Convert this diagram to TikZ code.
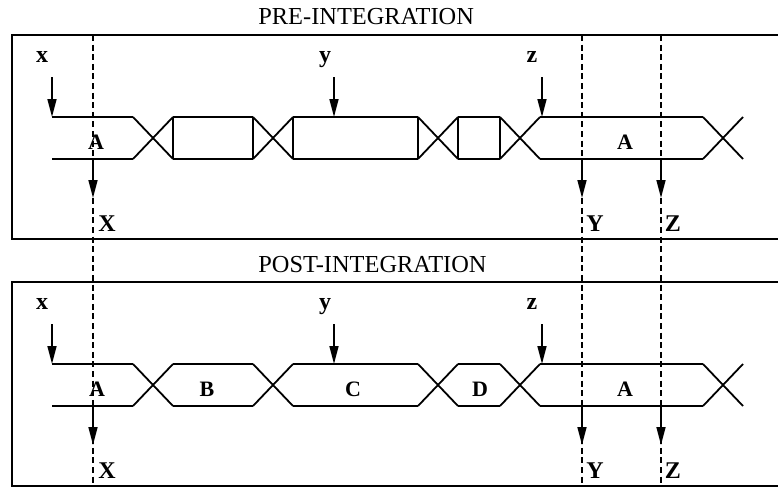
\documentclass[tikz,border=0pt]{standalone}
\usepackage{fontspec}
\setmainfont{Liberation Serif}
\usetikzlibrary{arrows.meta}

\tikzset{
  wave/.style={line width=0.9pt},
  frame/.style={line width=0.9pt},
  guide/.style={line width=0.6pt, dash pattern=on 3pt off 1.8pt},
  probe/.style={line width=0.8pt, -{Triangle[length=9pt,width=4.5pt]}},
  inlbl/.style={font=\bfseries\fontsize{12}{14}\selectfont, inner sep=0pt, anchor=base},
  outlbl/.style={font=\bfseries\fontsize{12}{14}\selectfont, inner sep=0pt, anchor=base},
  buslbl/.style={font=\bfseries\fontsize{11}{13}\selectfont, inner sep=0pt, anchor=base},
  ttl/.style={font=\fontsize{12.2}{14}\selectfont, anchor=base west, inner sep=0pt}
}

\begin{document}
\begin{tikzpicture}[x=0.5pt, y=-0.5pt]
    \useasboundingbox (0,0) rectangle (778,487);

    % Both panels, the second one shifted down by 247
    \foreach \oy/\txt/\p in {0/PRE-INTEGRATION/pre, 247/POST-INTEGRATION/post} {
        \node[ttl] (\p-title) at (258,25+\oy) {\txt};
        % frame, open on the right (cut by the page)
        \draw[frame] (780,35+\oy) -- (12,35+\oy) -- (12,239+\oy) -- (780,239+\oy);
        % bus lines between the transitions
        \foreach \a/\b in {52/133, 173/253, 293/418, 458/500, 540/703} {
            \draw[wave] (\a,117+\oy) -- (\b,117+\oy);
            \draw[wave] (\a,159+\oy) -- (\b,159+\oy);
        }
        % crossings
        \foreach \a/\b in {133/173, 253/293, 418/458, 500/540, 703/743} {
            \draw[wave] (\a,117+\oy) -- (\b,159+\oy);
            \draw[wave] (\a,159+\oy) -- (\b,117+\oy);
        }
        % inputs x, y, z
        \foreach \n/\lx/\ax in {x/42/52, y/325/334, z/532/542} {
            \node[inlbl] (\p-in-\n) at (\lx,62+\oy) {\n};
            \coordinate (\p-in-\n-s) at (\ax,77+\oy);
            \coordinate (\p-in-\n-e) at (\ax,117+\oy);
            \draw[probe] (\p-in-\n-s) -- (\p-in-\n-e);
        }
        % outputs X, Y, Z
        \foreach \n/\lx/\ax in {X/107/93, Y/595/582, Z/673/661} {
            \coordinate (\p-out-\n-s) at (\ax,159+\oy);
            \coordinate (\p-out-\n-e) at (\ax,198+\oy);
            \draw[probe] (\p-out-\n-s) -- (\p-out-\n-e);
            \node[outlbl] (\p-out-\n) at (\lx,231+\oy) {\n};
        }
    }

    % Pre-integration: closed blocks without names
    \foreach \v in {173,253,293,418,458,500} {
        \draw[wave] (\v,117) -- (\v,159);
    }
    \node[buslbl] (pre-a1) at (96,149) {A};
    \node[buslbl] (pre-a2) at (625,149) {A};

    % Post-integration: named blocks
    \node[buslbl] (post-a1) at (97,396) {A};
    \node[buslbl] (post-b) at (207,396) {B};
    \node[buslbl] (post-c) at (353,396) {C};
    \node[buslbl] (post-d) at (480,396) {D};
    \node[buslbl] (post-a2) at (625,396) {A};

    % Dashed sampling guides through both panels
    \foreach \gx in {93,582,661} {
        \draw[guide] (\gx,35) -- (\gx,487);
    }
\end{tikzpicture}
\end{document}
